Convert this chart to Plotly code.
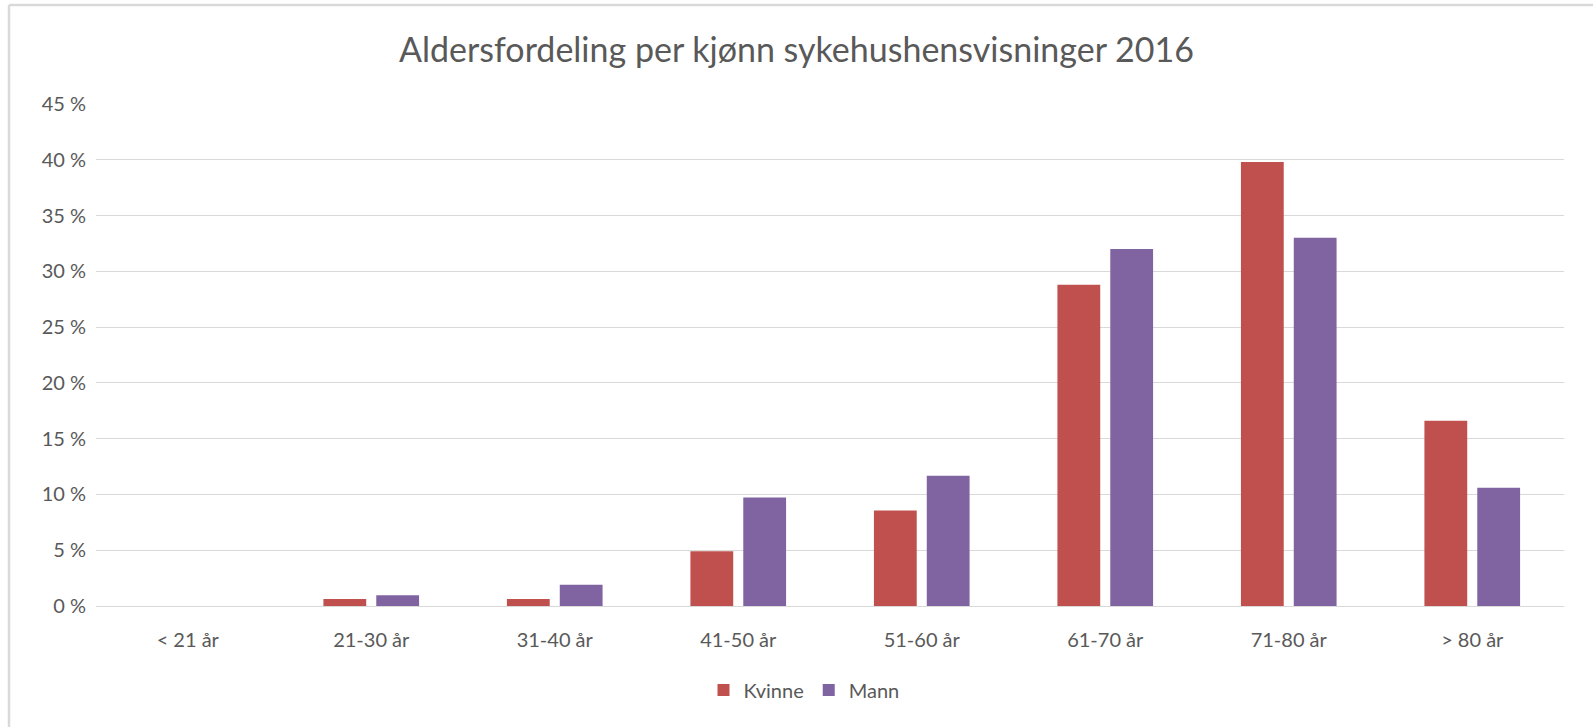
import plotly.graph_objects as go

categories = ["< 21 år", "21-30 år", "31-40 år", "41-50 år", "51-60 år", "61-70 år", "71-80 år", "> 80 år"]
kvinne = [0.0, 0.0063, 0.0063, 0.049, 0.0856, 0.288, 0.398, 0.166]
mann = [0.0, 0.0096, 0.019, 0.0973, 0.1168, 0.320, 0.330, 0.106]
tick_vals = [0, 0.05, 0.10, 0.15, 0.20, 0.25, 0.30, 0.35, 0.40, 0.45]
tick_text = ["0 %", "5 %", "10 %", "15 %", "20 %", "25 %", "30 %", "35 %", "40 %", "45 %"]

W, H = 1593, 727
L, R, T, B = 96, 29, 104, 121
FONT = "Lato"
TXT = "#595959"
ph = H - T - B
pw = W - L - R


def px(x):
    return (x - L) / pw


def py(y):
    return (H - B - y) / ph


fig = go.Figure()
fig.add_trace(go.Bar(name="Kvinne", x=categories, y=kvinne, marker=dict(color="#C0504D", line=dict(width=0))))
fig.add_trace(go.Bar(name="Mann", x=categories, y=mann, marker=dict(color="#8064A2", line=dict(width=0))))

fig.update_layout(
    width=W, height=H,
    margin=dict(l=L, r=R, t=T, b=B),
    paper_bgcolor="white", plot_bgcolor="white",
    barmode="group", bargap=0.424, bargroupgap=0.19,
    font=dict(family=FONT, color=TXT, size=20),
    title=dict(text="Aldersfordeling per kjønn sykehushensvisninger 2016",
               x=0.5, xanchor="center", y=1 - 50 / H, yanchor="middle", yref="container",
               font=dict(family=FONT, size=34, color=TXT)),
    showlegend=True,
    legend=dict(orientation="h", x=px(804), xanchor="center", y=py(690), yanchor="middle",
                font=dict(size=20, color=TXT), traceorder="normal"),
    xaxis=dict(showgrid=False, showline=False, ticks="outside", ticklen=16, tickcolor="rgba(0,0,0,0)",
               tickfont=dict(size=20, color=TXT), fixedrange=True),
    yaxis=dict(range=[0, 0.45], tickvals=tick_vals, ticktext=tick_text, showgrid=True,
               gridcolor="#D9D9D9", gridwidth=1, zeroline=True, zerolinecolor="#D9D9D9", zerolinewidth=1,
               ticks="outside", ticklen=5, tickcolor="rgba(0,0,0,0)", showline=False,
               tickfont=dict(size=20, color=TXT)),
    shapes=[
        dict(type="line", xref="paper", yref="paper", x0=px(9), x1=px(9),
             y0=py(H + 10), y1=py(5), line=dict(color="#D9D9D9", width=2.5)),
        dict(type="line", xref="paper", yref="paper", x0=px(9), x1=px(W + 10),
             y0=py(5), y1=py(5), line=dict(color="#D9D9D9", width=2.5)),
    ],
)

fig.write_html("out.html", config={"displayModeBar": False},
               post_script="document.body.style.margin='0';document.body.style.overflow='hidden';")
